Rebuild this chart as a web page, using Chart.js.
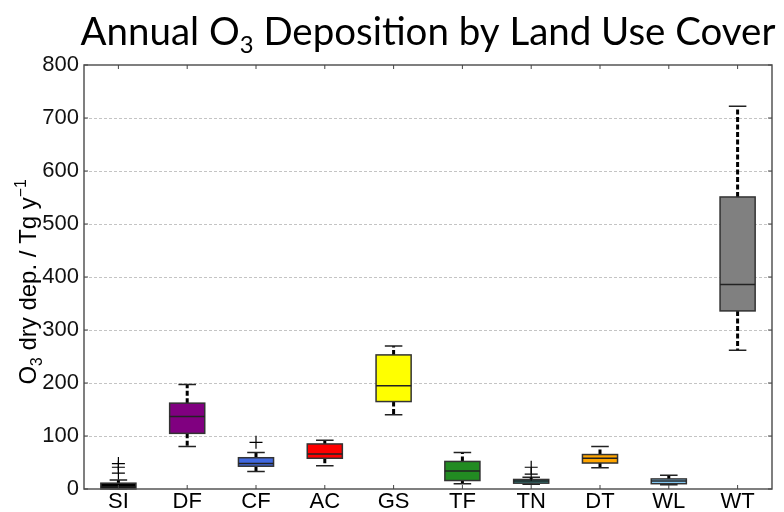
<!DOCTYPE html>
<html>
<head>
<meta charset="utf-8">
<script src="https://cdn.jsdelivr.net/npm/chart.js@4/dist/chart.umd.min.js"></script>
<style>
  html, body { margin: 0; padding: 0; background: #fff; }
  #wrap { width: 784px; height: 512px; }
</style>
</head>
<body>
<div id="wrap"><canvas id="c" width="784" height="512"></canvas></div>
<script>
const categories = ['SI', 'DF', 'CF', 'AC', 'GS', 'TF', 'TN', 'DT', 'WL', 'WT'];
const q1Values = [0, 105, 43, 58, 165, 16, 11, 49, 10, 336];
const q3Values = [11, 162, 59, 85, 253, 52, 18, 65, 19, 551];
const medianValues = [4, 137, 48, 66, 195, 34, 15, 58, 15, 386];
const whiskerLow = [0, 80, 33, 44, 140, 10, 9, 40, 8, 262];
const whiskerHigh = [17, 197, 69, 92, 270, 69, 22, 80, 26, 722];
const outlierValues = [[30, 41, 48], [], [88], [], [], [], [28, 41], [], [], []];
const boxColors = ['#000000', '#800080', '#4169E1', '#FF0000', '#FFFF00', '#228B22', '#2E8B8B', '#FFA500', '#87CEFA', '#808080'];
const yTicks = [0, 100, 200, 300, 400, 500, 600, 700, 800];

const boxData = categories.map((c, i) => [q1Values[i], q3Values[i]]);

const FONT = "'Liberation Sans', Arial, sans-serif";
const TITLE_FONT = "Lato, 'Open Sans', sans-serif";

const boxPlugin = {
  id: 'boxParts',
  afterDatasetsDraw(chart) {
    const ctx = chart.ctx;
    const x = chart.scales.x, y = chart.scales.y;
    const meta = chart.getDatasetMeta(0);
    ctx.save();
    categories.forEach((c, i) => {
      const bar = meta.data[i];
      const cx = bar.x;
      const bw = bar.width;
      const capW = bw * 0.5;
      ctx.strokeStyle = '#000';
      ctx.lineWidth = 3;
      ctx.setLineDash([5, 2.5]);
      ctx.beginPath();
      ctx.moveTo(cx, y.getPixelForValue(q3Values[i]));
      ctx.lineTo(cx, y.getPixelForValue(whiskerHigh[i]));
      ctx.moveTo(cx, y.getPixelForValue(q1Values[i]));
      ctx.lineTo(cx, y.getPixelForValue(whiskerLow[i]));
      ctx.stroke();
      ctx.setLineDash([]);
      ctx.lineWidth = 1.5;
      ctx.strokeStyle = '#222';
      ctx.beginPath();
      [whiskerHigh[i], whiskerLow[i]].forEach(v => {
        const py = y.getPixelForValue(v);
        ctx.moveTo(cx - capW / 2, py);
        ctx.lineTo(cx + capW / 2, py);
      });
      ctx.stroke();
      const top = y.getPixelForValue(q3Values[i]);
      const bot = y.getPixelForValue(q1Values[i]);
      ctx.fillStyle = boxColors[i];
      ctx.fillRect(cx - bw / 2, top, bw, bot - top);
      ctx.strokeStyle = '#333';
      ctx.lineWidth = 1.5;
      ctx.strokeRect(cx - bw / 2, top, bw, bot - top);
      const my = y.getPixelForValue(medianValues[i]);
      ctx.strokeStyle = '#222';
      ctx.lineWidth = 1.5;
      ctx.beginPath();
      ctx.moveTo(cx - bw / 2, my);
      ctx.lineTo(cx + bw / 2, my);
      ctx.stroke();
      ctx.strokeStyle = '#000';
      ctx.lineWidth = 1.2;
      outlierValues[i].forEach(v => {
        const py = y.getPixelForValue(v);
        const s = 6.5;
        ctx.beginPath();
        ctx.moveTo(cx - s, py); ctx.lineTo(cx + s, py);
        ctx.moveTo(cx, py - s); ctx.lineTo(cx, py + s);
        ctx.stroke();
      });
    });
    const a = chart.chartArea;
    ctx.strokeStyle = '#555';
    ctx.lineWidth = 1.5;
    ctx.strokeRect(a.left, a.top, a.right - a.left, a.bottom - a.top);
    ctx.lineWidth = 1;
    ctx.strokeStyle = '#444';
    ctx.beginPath();
    yTicks.forEach(v => {
      const py = y.getPixelForValue(v);
      ctx.moveTo(a.left, py); ctx.lineTo(a.left + 4, py);
      ctx.moveTo(a.right, py); ctx.lineTo(a.right - 4, py);
    });
    categories.forEach((c, i) => {
      const px = x.getPixelForValue(i);
      ctx.moveTo(px, a.bottom); ctx.lineTo(px, a.bottom - 4);
      ctx.moveTo(px, a.top); ctx.lineTo(px, a.top + 4);
    });
    ctx.stroke();
    ctx.restore();
  }
};

function drawPieces(ctx, pieces, startX, baseY) {
  let px = startX;
  pieces.forEach(p => {
    ctx.font = p.font;
    ctx.fillText(p.text, px, baseY + p.dy);
    px += ctx.measureText(p.text).width;
  });
}
function measurePieces(ctx, pieces) {
  let w = 0;
  pieces.forEach(p => { ctx.font = p.font; w += ctx.measureText(p.text).width; });
  return w;
}

const textPlugin = {
  id: 'texts',
  afterDraw(chart) {
    const ctx = chart.ctx;
    ctx.save();
    ctx.fillStyle = '#000';
    ctx.textBaseline = 'alphabetic';
    const mk = s => [
      { text: 'Annual O', font: `${s}px ${TITLE_FONT}`, dy: 0 },
      { text: '3', font: `${s * 0.62}px ${TITLE_FONT}`, dy: s * 0.2 },
      { text: ' Deposition by Land Use Cover', font: `${s}px ${TITLE_FONT}`, dy: 0 }
    ];
    const w40 = measurePieces(ctx, mk(40));
    const size = 40 * 695 / w40;
    const tp = mk(size);
    const tw = measurePieces(ctx, tp);
    drawPieces(ctx, tp, 428 - tw / 2, 45);
    const ys = 24;
    const yp = [
      { text: 'O', font: `${ys}px ${FONT}`, dy: 0 },
      { text: '3', font: `${ys * 0.65}px ${FONT}`, dy: ys * 0.25 },
      { text: ' dry dep. / Tg y', font: `${ys}px ${FONT}`, dy: 0 },
      { text: '\u22121', font: `${ys * 0.65}px ${FONT}`, dy: -ys * 0.42 }
    ];
    const yw = measurePieces(ctx, yp);
    ctx.translate(36, 282);
    ctx.rotate(-Math.PI / 2);
    drawPieces(ctx, yp, -yw / 2, 0);
    ctx.restore();
  }
};

new Chart(document.getElementById('c'), {
  type: 'bar',
  data: {
    labels: categories,
    datasets: [{
      data: boxData,
      backgroundColor: boxColors,
      borderColor: '#333',
      borderWidth: 1.5,
      borderSkipped: false,
      barPercentage: 0.51,
      categoryPercentage: 1.0
    }]
  },
  options: {
    responsive: false,
    animation: false,
    devicePixelRatio: 1,
    layout: { padding: { top: 65, right: 12, bottom: 0, left: 0 } },
    plugins: { legend: { display: false }, title: { display: false }, tooltip: { enabled: false } },
    scales: {
      x: {
        grid: { display: false, drawTicks: false },
        border: { display: false },
        ticks: { color: '#000', font: { family: FONT, size: 22 }, padding: 0, maxRotation: 0 },
        afterFit: s => { s.height = 23; }
      },
      y: {
        min: 0, max: 800,
        grid: {
          color: ctx => (ctx.tick && (ctx.tick.value === 0 || ctx.tick.value === 800)) ? 'rgba(0,0,0,0)' : '#c4c4c4',
          lineWidth: 1,
          drawTicks: false
        },
        border: { display: false, dash: [3, 2] },
        ticks: {
          stepSize: 100, color: '#111', padding: 5,
          font: { family: FONT, size: 22 }
        },
        afterFit: s => { s.width = 84; }
      }
    }
  },
  plugins: [boxPlugin, textPlugin]
});
</script>
</body>
</html>
